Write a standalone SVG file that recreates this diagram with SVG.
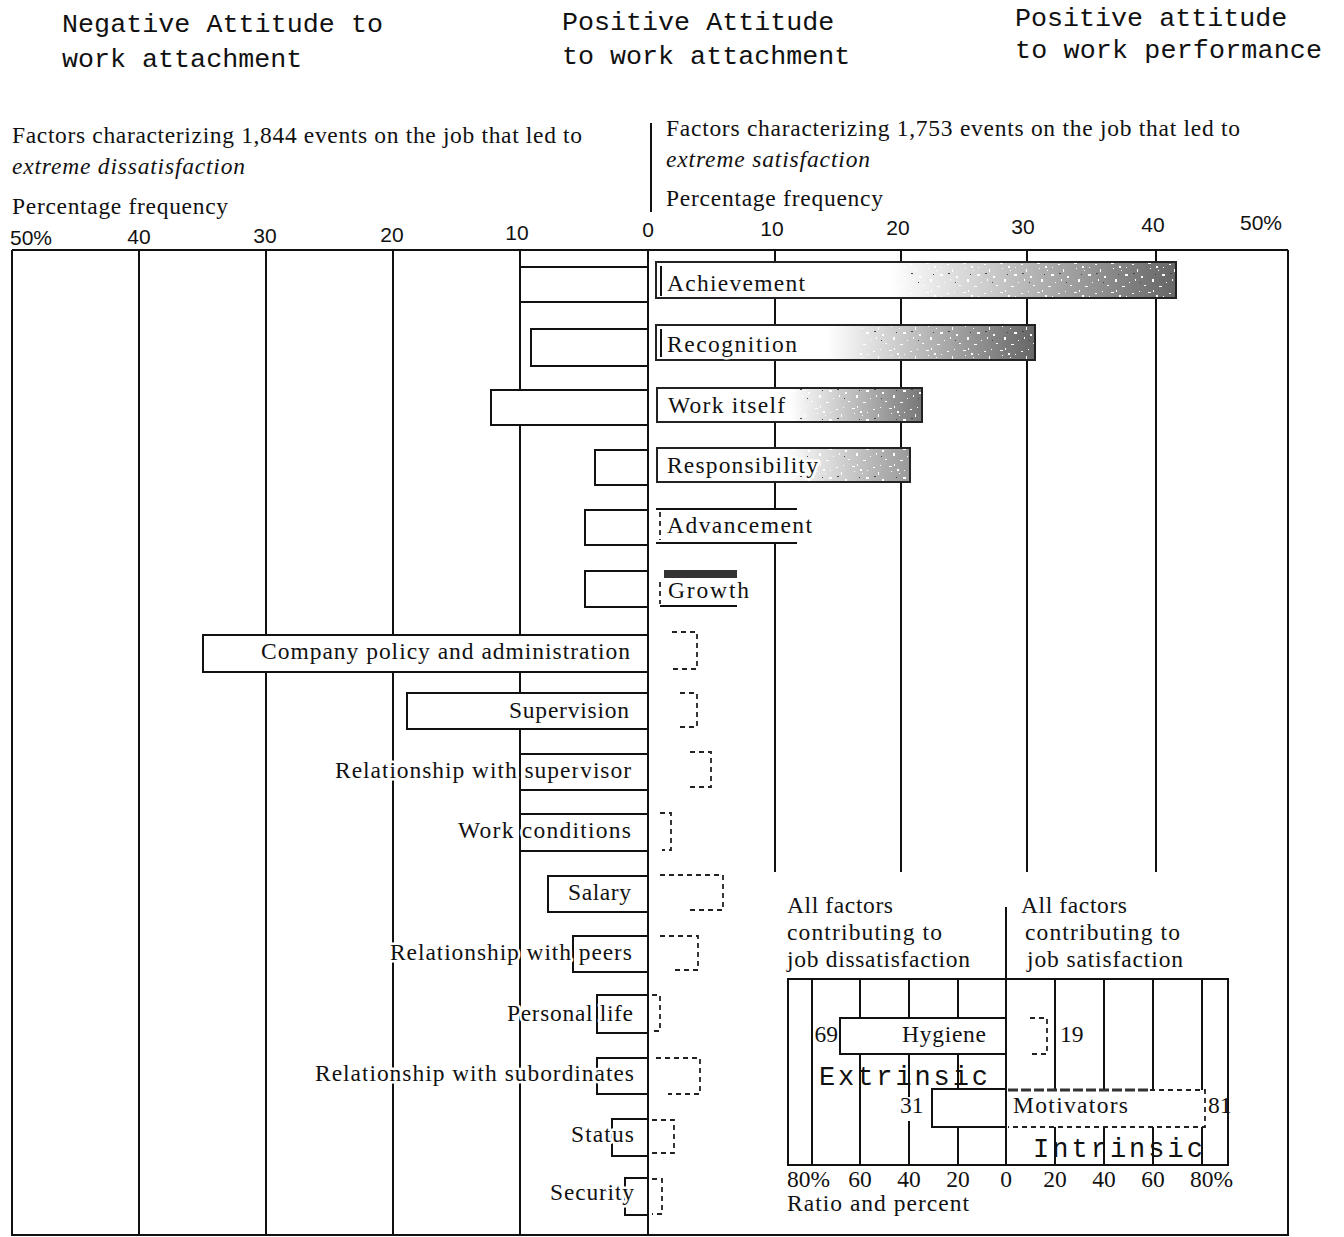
<svg xmlns="http://www.w3.org/2000/svg" width="1344" height="1237" viewBox="0 0 1344 1237">
<style>
.mono{font-family:"Liberation Mono","DejaVu Sans Mono",monospace;font-size:26.7px;fill:#111}
.serif{font-family:"Liberation Serif","DejaVu Serif",serif;font-size:23.5px;fill:#111}
.halo{stroke:#fff;stroke-width:5px;paint-order:stroke;stroke-linejoin:round}
.it{font-style:italic}
.num{font-family:"Liberation Sans","DejaVu Sans",sans-serif;font-size:21px;fill:#111}
.grid{stroke:#111;stroke-width:2;fill:none}
.bar{fill:#fff;stroke:#111;stroke-width:2}
.sbar{stroke:#222;stroke-width:2}
.dash{fill:none;stroke:#222;stroke-width:1.8;stroke-dasharray:5 4}
.end{text-anchor:end}
.mid{text-anchor:middle}
</style>
<defs>
<linearGradient id="shadeA" x1="0" y1="0" x2="1" y2="0">
<stop offset="0" stop-color="#fff"/><stop offset="0.45" stop-color="#fff"/><stop offset="0.7" stop-color="#bbb"/><stop offset="1" stop-color="#666"/>
</linearGradient>
<linearGradient id="shadeB" x1="0" y1="0" x2="1" y2="0">
<stop offset="0" stop-color="#fff"/><stop offset="0.5" stop-color="#fff"/><stop offset="0.75" stop-color="#bbb"/><stop offset="1" stop-color="#777"/>
</linearGradient>
<linearGradient id="shadeC" x1="0" y1="0" x2="1" y2="0">
<stop offset="0" stop-color="#fff"/><stop offset="0.5" stop-color="#fff"/><stop offset="1" stop-color="#999"/>
</linearGradient>
<pattern id="speck" width="37" height="29" patternUnits="userSpaceOnUse">
<rect x="1" y="2" width="3" height="1" fill="#fff"/><rect x="6" y="0" width="1" height="2" fill="#fff"/>
<rect x="9" y="5" width="2" height="2" fill="#fff"/><rect x="3" y="7" width="1" height="1" fill="#fff"/>
<rect x="11" y="9" width="1" height="1" fill="#fff"/><rect x="15" y="13" width="3" height="2" fill="#fff"/>
<rect x="22" y="3" width="2" height="1" fill="#fff"/><rect x="27" y="8" width="1" height="3" fill="#fff"/>
<rect x="31" y="15" width="2" height="2" fill="#fff"/><rect x="19" y="21" width="1" height="1" fill="#fff"/>
<rect x="5" y="18" width="2" height="3" fill="#fff"/><rect x="34" y="24" width="2" height="1" fill="#fff"/>
<rect x="12" y="25" width="3" height="1" fill="#fff"/><rect x="25" y="18" width="1" height="2" fill="#fff"/>
<rect x="29" y="1" width="1" height="1" fill="#fff"/><rect x="16" y="6" width="1" height="1" fill="#fff"/>
<rect x="8" y="13" width="1" height="1" fill="#444"/><rect x="23" y="12" width="2" height="1" fill="#444"/>
<rect x="30" y="21" width="1" height="1" fill="#444"/>
</pattern>
</defs>

<g id="headers">
<text class="mono" x="62" y="32" textLength="321">Negative Attitude to</text>
<text class="mono" x="62" y="67">work attachment</text>
<text class="mono" x="562" y="30">Positive Attitude</text>
<text class="mono" x="562" y="64">to work attachment</text>
<text class="mono" x="1015" y="26">Positive attitude</text>
<text class="mono" x="1015" y="58" textLength="307">to work performance</text>
</g>

<g id="axis-titles">
<text class="serif" x="12" y="143" textLength="570">Factors characterizing 1,844 events on the job that led to</text>
<text class="serif it" x="12" y="174" textLength="233">extreme dissatisfaction</text>
<text class="serif" x="12" y="214" textLength="216">Percentage frequency</text>
<text class="serif" x="666" y="136" textLength="574">Factors characterizing  1,753 events on the job that led to</text>
<text class="serif it" x="666" y="167" textLength="204">extreme satisfaction</text>
<text class="serif" x="666" y="206" textLength="217">Percentage frequency</text>
<line class="grid" x1="651" y1="123" x2="651" y2="212"/>
<text class="num" x="10" y="245">50%</text>
<text class="num mid" x="139" y="244">40</text>
<text class="num mid" x="265" y="243">30</text>
<text class="num mid" x="392" y="242">20</text>
<text class="num mid" x="517" y="240">10</text>
<text class="num mid" x="648" y="237">0</text>
<text class="num mid" x="772" y="236">10</text>
<text class="num mid" x="898" y="235">20</text>
<text class="num mid" x="1023" y="234">30</text>
<text class="num mid" x="1153" y="232">40</text>
<text class="num" x="1240" y="230">50%</text>
</g>

<g id="frame">
<line class="grid" x1="12" y1="250" x2="1288" y2="250"/>
<line class="grid" x1="12" y1="250" x2="12" y2="1236"/>
<line class="grid" x1="1288" y1="250" x2="1288" y2="1236"/>
<line class="grid" x1="12" y1="1235" x2="1288" y2="1235"/>
<line class="grid" x1="139" y1="250" x2="139" y2="1236"/>
<line class="grid" x1="266" y1="250" x2="266" y2="1236"/>
<line class="grid" x1="393" y1="250" x2="393" y2="1236"/>
<line class="grid" x1="520" y1="250" x2="520" y2="1236"/>
<line class="grid" x1="648" y1="250" x2="648" y2="1236"/>
<line class="grid" x1="775" y1="250" x2="775" y2="872"/>
<line class="grid" x1="901" y1="250" x2="901" y2="872"/>
<line class="grid" x1="1027" y1="250" x2="1027" y2="872"/>
<line class="grid" x1="1156" y1="250" x2="1156" y2="872"/>
</g>

<g id="motivator-bars">
<g id="achievement">
<rect class="bar" x="520" y="267" width="128" height="35"/>
<rect class="sbar" x="656" y="262" width="520" height="36" fill="url(#shadeA)"/>
<rect x="900" y="263" width="275" height="34" fill="url(#speck)"/>
<line class="grid" x1="661" y1="266" x2="661" y2="296" stroke-width="1.5"/>
<text class="serif halo" x="667" y="291" textLength="138">Achievement</text>
</g>
<g id="recognition">
<rect class="bar" x="531" y="329" width="117" height="37"/>
<rect class="sbar" x="656" y="325" width="379" height="35" fill="url(#shadeA)"/>
<rect x="860" y="326" width="174" height="33" fill="url(#speck)"/>
<line class="grid" x1="661" y1="329" x2="661" y2="357" stroke-width="1.5"/>
<text class="serif halo" x="667" y="352" textLength="130">Recognition</text>
</g>
<g id="work-itself">
<rect class="bar" x="491" y="390" width="157" height="35"/>
<rect class="sbar" x="657" y="388" width="265" height="34" fill="url(#shadeB)"/>
<rect x="790" y="389" width="131" height="32" fill="url(#speck)"/>
<text class="serif halo" x="668" y="413" textLength="117">Work itself</text>
</g>
<g id="responsibility">
<rect class="bar" x="595" y="450" width="53" height="35"/>
<rect class="sbar" x="657" y="448" width="253" height="34" fill="url(#shadeC)"/>
<rect x="790" y="449" width="119" height="32" fill="url(#speck)"/>
<text class="serif halo" x="667" y="473" textLength="151">Responsibility</text>
</g>
<g id="advancement">
<rect class="bar" x="585" y="510" width="63" height="35"/>
<rect x="656" y="509" width="141" height="34" fill="#fff"/>
<path class="grid" d="M656 509 H797 M656 543 H797"/>
<path class="dash" d="M660 512 V540"/>
<text class="serif halo" x="667" y="533" textLength="145">Advancement</text>
</g>
<g id="growth">
<rect class="bar" x="585" y="571" width="63" height="36"/>
<rect x="664" y="570" width="73" height="8" fill="#333"/>
<path class="grid" d="M660 606 H737"/>
<path class="dash" d="M660 582 V604"/>
<text class="serif halo" x="668" y="598" textLength="81">Growth</text>
</g>
</g>

<g id="hygiene-bars">
<g id="company-policy">
<rect class="bar" x="203" y="635" width="445" height="37"/>
<path class="dash" d="M672 632 H697 V669 H672"/>
<text class="serif end" x="630" y="659" textLength="369">Company policy and administration</text>
</g>
<g id="supervision">
<rect class="bar" x="407" y="693" width="241" height="36"/>
<path class="dash" d="M680 693 H697 V727 H680"/>
<text class="serif end" x="629" y="718" textLength="120">Supervision</text>
</g>
<g id="rel-supervisor">
<rect class="bar" x="520" y="754" width="128" height="36"/>
<path class="dash" d="M690 752 H711 V787 H690"/>
<text class="serif end halo" x="631" y="778" textLength="296">Relationship with supervisor</text>
</g>
<g id="work-conditions">
<rect class="bar" x="520" y="814" width="128" height="37"/>
<path class="dash" d="M660 813 H671 V850 H662"/>
<text class="serif end halo" x="631" y="838" textLength="173">Work conditions</text>
</g>
<g id="salary">
<rect class="bar" x="548" y="876" width="100" height="36"/>
<path class="dash" d="M660 875 H723 V910 H690"/>
<text class="serif end" x="631" y="900" textLength="63">Salary</text>
</g>
<g id="rel-peers">
<rect class="bar" x="573" y="936" width="75" height="36"/>
<path class="dash" d="M660 936 H698 V970 H672"/>
<text class="serif end halo" x="632" y="960" textLength="242">Relationship with peers</text>
</g>
<g id="personal-life">
<rect class="bar" x="597" y="995" width="51" height="38"/>
<path class="dash" d="M652 995 H660 V1031 H652"/>
<text class="serif end halo" x="633" y="1021" textLength="126">Personal life</text>
</g>
<g id="rel-subordinates">
<rect class="bar" x="597" y="1058" width="51" height="36"/>
<path class="dash" d="M656 1058 H700 V1094 H668"/>
<text class="serif end halo" x="634" y="1081" textLength="319">Relationship with subordinates</text>
</g>
<g id="status">
<rect class="bar" x="612" y="1119" width="36" height="37"/>
<path class="dash" d="M652 1120 H674 V1153 H652"/>
<text class="serif end halo" x="634" y="1142" textLength="63">Status</text>
</g>
<g id="security">
<rect class="bar" x="625" y="1178" width="23" height="37"/>
<path class="dash" d="M652 1179 H662 V1214 H652"/>
<text class="serif end halo" x="634" y="1200" textLength="84">Security</text>
</g>
</g>

<g id="inset">
<text class="serif" x="787" y="913" textLength="106">All factors</text>
<text class="serif" x="787" y="940" textLength="155">contributing to</text>
<text class="serif" x="787" y="967" textLength="183">job dissatisfaction</text>
<text class="serif" x="1021" y="913" textLength="106">All factors</text>
<text class="serif" x="1025" y="940" textLength="155">contributing to</text>
<text class="serif" x="1027" y="967" textLength="156">job satisfaction</text>
<line class="grid" x1="1006" y1="907" x2="1006" y2="979"/>
<rect x="788" y="979" width="440" height="186" fill="#fff" stroke="#111" stroke-width="2"/>
<g class="grid">
<line x1="812" y1="979" x2="812" y2="1165"/>
<line x1="860" y1="979" x2="860" y2="1165"/>
<line x1="909" y1="979" x2="909" y2="1165"/>
<line x1="958" y1="979" x2="958" y2="1165"/>
<line x1="1006" y1="979" x2="1006" y2="1165"/>
<line x1="1055" y1="979" x2="1055" y2="1165"/>
<line x1="1104" y1="979" x2="1104" y2="1165"/>
<line x1="1153" y1="979" x2="1153" y2="1165"/>
<line x1="1202" y1="979" x2="1202" y2="1165"/>
</g>
<g id="hygiene">
<rect class="bar" x="840" y="1018" width="166" height="36"/>
<rect x="814" y="1024" width="24" height="24" fill="#fff"/>
<text class="serif end" x="838" y="1042">69</text>
<text class="serif" x="902" y="1042" textLength="84">Hygiene</text>
<path class="dash" d="M1030 1018 H1047 V1054 H1030"/>
<text class="serif" x="1060" y="1042">19</text>
</g>
<text class="mono" x="819" y="1085" textLength="169" style="font-size:27px">Extrinsic</text>
<g id="motivators">
<rect x="897" y="1097" width="30" height="24" fill="#fff"/>
<text class="serif" x="900" y="1113">31</text>
<rect class="bar" x="932" y="1089" width="74" height="38"/>
<rect x="1008" y="1090" width="197" height="37" fill="#fff"/>
<path d="M1008 1090 H1150" stroke="#333" stroke-width="3" stroke-dasharray="10 3"/>
<path class="dash" d="M1150 1090 H1205 V1127 H1008"/>
<text class="serif" x="1013" y="1113" textLength="115">Motivators</text>
<rect x="1207" y="1097" width="20" height="24" fill="#fff"/>
<text class="serif" x="1208" y="1113">81</text>
</g>
<text class="mono" x="1033" y="1157" textLength="170" style="font-size:27px">Intrinsic</text>
<g class="serif">
<text x="787" y="1187">80%</text>
<text class="mid" x="860" y="1187">60</text>
<text class="mid" x="909" y="1187">40</text>
<text class="mid" x="958" y="1187">20</text>
<text class="mid" x="1006" y="1187">0</text>
<text class="mid" x="1055" y="1187">20</text>
<text class="mid" x="1104" y="1187">40</text>
<text class="mid" x="1153" y="1187">60</text>
<text x="1190" y="1187">80%</text>
</g>
<text class="serif" x="787" y="1211" textLength="182">Ratio and percent</text>
</g>
</svg>
